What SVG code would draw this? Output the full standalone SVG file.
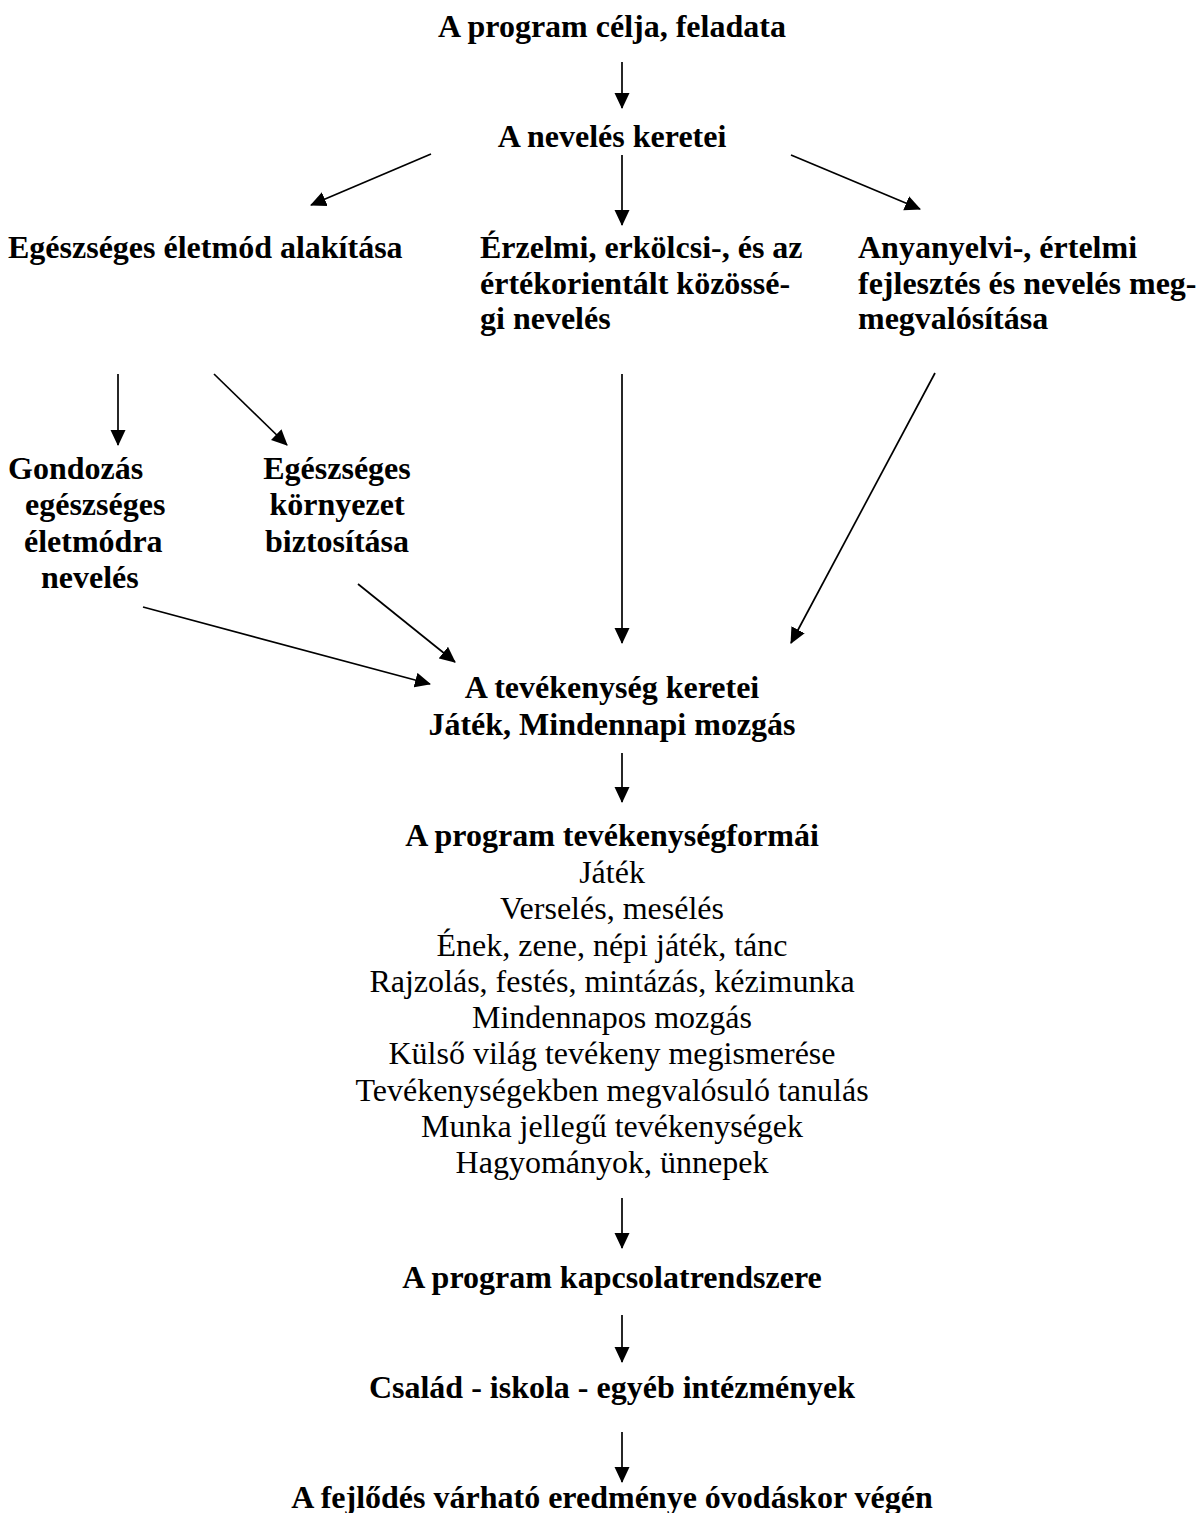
<svg xmlns="http://www.w3.org/2000/svg" width="1198" height="1513" viewBox="0 0 1198 1513">
<style>
text{font-family:"Liberation Serif","Times New Roman",serif;font-size:32px;fill:#000}
.b{font-weight:bold}
.c{text-anchor:middle}
.cn line{stroke:#000;stroke-width:1.7;marker-end:url(#ah)}
</style>
<defs>
<marker id="ah" markerUnits="userSpaceOnUse" markerWidth="16" markerHeight="16" refX="15" refY="8" orient="auto" viewBox="0 0 16 16">
<path d="M0,0.5 L16,8 L0,15.5 z" fill="#000"/>
</marker>
</defs>
<rect width="1198" height="1513" fill="#fff"/>
<g id="n-cel"><text class="b c" x="612" y="37">A program célja, feladata</text></g>
<g id="n-nevkeret"><text class="b c" x="612" y="147">A nevelés keretei</text></g>
<g id="n-egeszseges"><text class="b" x="8" y="258">Egészséges életmód alakítása</text></g>
<g id="n-erzelmi"><text class="b" x="480" y="258">Érzelmi, erkölcsi-, és az</text><text class="b" x="480" y="293.5">értékorientált közössé-</text><text class="b" x="480" y="329">gi nevelés</text></g>
<g id="n-anyanyelvi"><text class="b" x="858" y="258">Anyanyelvi-, értelmi</text><text class="b" x="858" y="293.5">fejlesztés és nevelés meg-</text><text class="b" x="858" y="329">megvalósítása</text></g>
<g id="n-gondozas"><text class="b" x="8" y="479">Gondozás</text><text class="b" x="25" y="515">egészséges</text><text class="b" x="24" y="552">életmódra</text><text class="b" x="41" y="588">nevelés</text></g>
<g id="n-kornyezet"><text class="b c" x="337" y="479">Egészséges</text><text class="b c" x="337" y="515">környezet</text><text class="b c" x="337" y="552">biztosítása</text></g>
<g id="n-tevkeret"><text class="b c" x="612" y="698">A tevékenység keretei</text><text class="b c" x="612" y="735">Játék, Mindennapi mozgás</text></g>
<g id="n-formak"><text class="b c" x="612" y="846">A program tevékenységformái</text>
<text class="c" x="612" y="883">Játék</text>
<text class="c" x="612" y="919">Verselés, mesélés</text>
<text class="c" x="612" y="955.5">Ének, zene, népi játék, tánc</text>
<text class="c" x="612" y="992">Rajzolás, festés, mintázás, kézimunka</text>
<text class="c" x="612" y="1028">Mindennapos mozgás</text>
<text class="c" x="612" y="1064">Külső világ tevékeny megismerése</text>
<text class="c" x="612" y="1100.5">Tevékenységekben megvalósuló tanulás</text>
<text class="c" x="612" y="1137">Munka jellegű tevékenységek</text>
<text class="c" x="612" y="1173">Hagyományok, ünnepek</text></g>
<g id="n-kapcsolat"><text class="b c" x="612" y="1288">A program kapcsolatrendszere</text></g>
<g id="n-csalad"><text class="b c" x="612" y="1398">Család - iskola - egyéb intézmények</text></g>
<g id="n-eredmeny"><text class="b c" x="612" y="1508">A fejlődés várható eredménye óvodáskor végén</text></g>
<g id="connectors" class="cn">
<line x1="622" y1="62" x2="622" y2="108"/>
<line x1="431" y1="154" x2="311" y2="205"/>
<line x1="622" y1="155" x2="622" y2="225"/>
<line x1="791" y1="155" x2="920" y2="209"/>
<line x1="118" y1="374" x2="118" y2="445"/>
<line x1="214" y1="374" x2="287" y2="445"/>
<line x1="622" y1="374" x2="622" y2="643"/>
<line x1="935" y1="373" x2="791" y2="643"/>
<line x1="143" y1="607" x2="430" y2="684"/>
<line x1="358" y1="584" x2="455" y2="662"/>
<line x1="622" y1="753" x2="622" y2="802"/>
<line x1="622" y1="1198" x2="622" y2="1248"/>
<line x1="622" y1="1315" x2="622" y2="1362"/>
<line x1="622" y1="1432" x2="622" y2="1482"/>
</g>
</svg>
